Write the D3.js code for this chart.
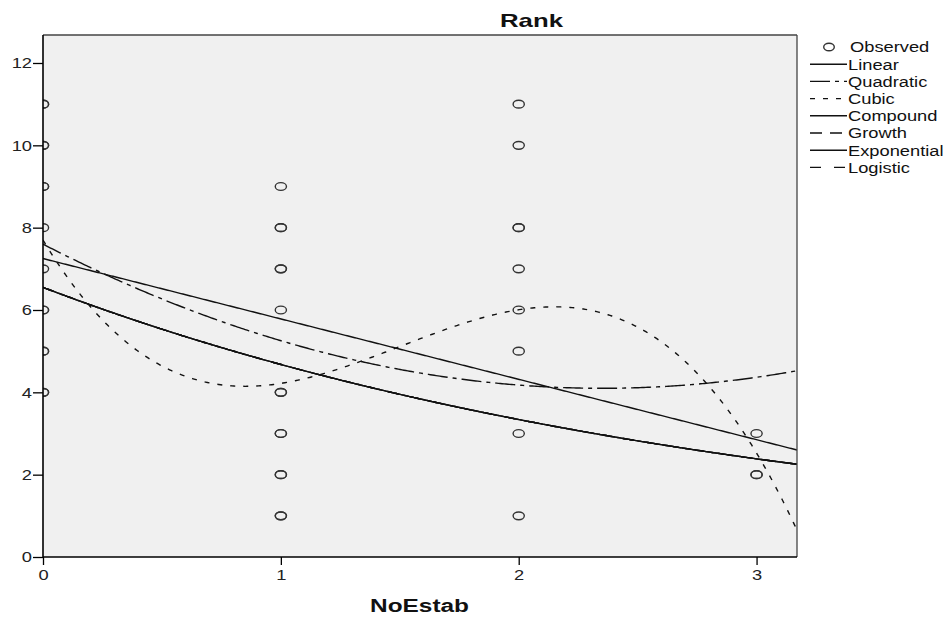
<!DOCTYPE html>
<html>
<head>
<meta charset="utf-8">
<script src="https://cdn.jsdelivr.net/npm/d3@7"></script>
<style>
  html, body { margin: 0; padding: 0; background: #fff; }
  svg { display: block; font-family: "Liberation Sans", Arial, sans-serif; }
</style>
</head>
<body>
<svg id="chart" width="944" height="617"></svg>
<script>
// ---- Data ----
const titleText = "Rank";
const xLabel = "NoEstab";
const xTicks = [0, 1, 2, 3];
const yTicks = [0, 2, 4, 6, 8, 10, 12];
const xDomain = [0, 3.17];
const yDomain = [0, 12.68];

// Observed points (repeated values = overlapping cases)
const obsX = [0,0,0,0,0,0,0,0,0,0,0,0,0,0,
              1,1,1,1,1,1,1,1,1,1,1,1,1,1,
              2,2,2,2,2,2,2,2,2,
              3,3,3];
const obsY = [11,11,10,10,9,9,8,7,6,6,5,5,4,4,
              9,8,8,7,7,6,4,4,3,3,2,2,1,1,
              11,10,8,8,7,6,5,3,1,
              3,2,2];

// Fitted model coefficients
const linearCoef = [7.25, -1.467];            // b0 + b1 x
const quadraticCoef = [7.6, -2.98, 0.634];    // b0 + b1 x + b2 x^2
const cubicCoef = [7.70, -9.633, 7.907, -1.757];
const compoundCoef = [6.55, 0.714];           // b0 * b1^x
const growthCoef = [Math.log(6.55), Math.log(0.714)];      // exp(b0 + b1 x)
const exponentialCoef = [6.55, Math.log(0.714)];           // b0 * exp(b1 x)
const logisticCoef = [1 / 6.55, 1 / 0.714];                // 1/(b0 * b1^x)

const legendLabels = ["Observed", "Linear", "Quadratic", "Cubic", "Compound", "Growth", "Exponential", "Logistic"];

// ---- Layout ----
const SX = 1.22; // horizontal stretch of the original picture
const svg = d3.select("#chart");
const L = 43, R = 797, T = 35, B = 557;
const x = d3.scaleLinear().domain(xDomain).range([L, R]);
const y = d3.scaleLinear().domain(yDomain).range([B, T]);

const models = [
  { name: "Linear", f: v => linearCoef[0] + linearCoef[1] * v, dash: null },
  { name: "Quadratic", f: v => quadraticCoef[0] + quadraticCoef[1] * v + quadraticCoef[2] * v * v, dash: "20,5,4,5" },
  { name: "Cubic", f: v => cubicCoef[0] + cubicCoef[1] * v + cubicCoef[2] * v * v + cubicCoef[3] * v * v * v, dash: "5,8" },
  { name: "Compound", f: v => compoundCoef[0] * Math.pow(compoundCoef[1], v), dash: null },
  { name: "Growth", f: v => Math.exp(growthCoef[0] + growthCoef[1] * v), dash: "12,8" },
  { name: "Exponential", f: v => exponentialCoef[0] * Math.exp(exponentialCoef[1] * v), dash: null },
  { name: "Logistic", f: v => 1 / (logisticCoef[0] * Math.pow(logisticCoef[1], v)), dash: "11,13" }
];

// plot background
svg.append("rect").attr("x", L).attr("y", T).attr("width", R - L).attr("height", B - T)
  .attr("fill", "#f0f0f0");

svg.append("defs").append("clipPath").attr("id", "clip")
  .append("rect").attr("x", L).attr("y", T).attr("width", R - L).attr("height", B - T);

const plot = svg.append("g").attr("clip-path", "url(#clip)");

// observed points
plot.selectAll("ellipse.obs").data(obsX.map((v, i) => [v, obsY[i]])).enter()
  .append("ellipse").attr("class", "obs")
  .attr("cx", d => x(d[0])).attr("cy", d => y(d[1])).attr("rx", 5.6).attr("ry", 3.9)
  .attr("fill", "none").attr("stroke", "#333").attr("stroke-width", 1.4);

// curves
const xs = d3.range(0, 400).map(i => xDomain[0] + (xDomain[1] - xDomain[0]) * i / 399);
const line = d3.line().x(d => x(d[0])).y(d => y(d[1]));
models.forEach(m => {
  plot.append("path")
    .attr("d", line(xs.map(v => [v, m.f(v)])))
    .attr("fill", "none").attr("stroke", "#111").attr("stroke-width", 1.4)
    .attr("stroke-dasharray", m.dash);
});

// frame top/right
svg.append("line").attr("x1", L).attr("x2", R).attr("y1", T).attr("y2", T).attr("stroke", "#444").attr("stroke-width", 1.3);
svg.append("line").attr("x1", R).attr("x2", R).attr("y1", T).attr("y2", B).attr("stroke", "#444").attr("stroke-width", 1.3);

// axes
const yTick = 10, yPad = 1;
const yAxis = svg.append("g").attr("transform", `translate(${L},0)`)
  .call(d3.axisLeft(y).tickValues(yTicks).tickSize(yTick).tickPadding(yPad).tickFormat(d3.format("d")));
const xAxis = svg.append("g").attr("transform", `translate(0,${B})`)
  .call(d3.axisBottom(x).tickValues(xTicks).tickSize(8).tickPadding(4).tickFormat(d3.format("d")));
[yAxis, xAxis].forEach(g => {
  g.select(".domain").attr("stroke", "#000").attr("stroke-width", 1.6);
  g.selectAll(".tick line").attr("stroke", "#000").attr("stroke-width", 1.3);
  g.selectAll("text").attr("font-family", "Liberation Sans, Arial, sans-serif")
    .attr("font-size", 15).attr("fill", "#222");
});
yAxis.selectAll(".tick text").attr("x", -(yTick + yPad) / SX).attr("transform", `scale(${SX},1)`);
xAxis.selectAll(".tick text").attr("transform", `scale(${SX},1)`);
// domain lines exact
yAxis.select(".domain").attr("d", `M0,${T}V${B}`);
xAxis.select(".domain").attr("d", `M${L},0H${R}`);

// title
svg.append("text").attr("x", 500).attr("y", 27)
  .attr("font-size", 19).attr("font-weight", "bold").attr("fill", "#111")
  .attr("textLength", 63).attr("lengthAdjust", "spacingAndGlyphs").text(titleText);

// x label
svg.append("text").attr("x", 370).attr("y", 612)
  .attr("font-size", 18).attr("font-weight", "bold").attr("fill", "#111")
  .attr("textLength", 99).attr("lengthAdjust", "spacingAndGlyphs").text(xLabel);

// legend
const lg = svg.append("g");
const lx0 = 810, lx1 = 847, ly0 = 47, ldy = 17.2;
legendLabels.forEach((lab, i) => {
  const yy = ly0 + i * ldy;
  const tx = i === 0 ? 850 : 848;
  if (i === 0) {
    lg.append("ellipse").attr("cx", 829).attr("cy", yy).attr("rx", 5.3).attr("ry", 3.8)
      .attr("fill", "none").attr("stroke", "#333").attr("stroke-width", 1.4);
  } else {
    const m = models[i - 1];
    lg.append("line").attr("x1", lx0).attr("x2", lx1).attr("y1", yy).attr("y2", yy)
      .attr("stroke", "#111").attr("stroke-width", 1.4).attr("stroke-dasharray", m.dash);
  }
  lg.append("text").attr("transform", `translate(${tx},${yy + 5.3}) scale(${SX},1)`)
    .attr("font-size", 15).attr("fill", "#111").text(lab);
});
</script>
</body>
</html>
